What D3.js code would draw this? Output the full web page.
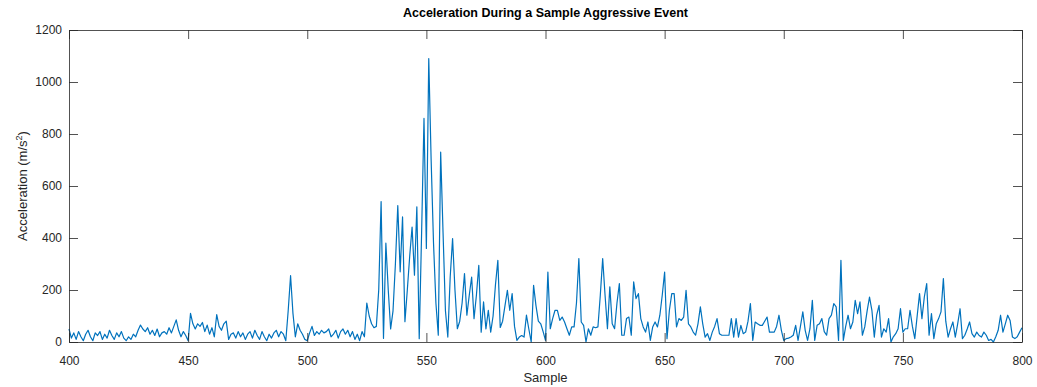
<!DOCTYPE html>
<html>
<head>
<meta charset="utf-8">
<script src="https://cdn.jsdelivr.net/npm/d3@7"></script>
<style>
  body { margin: 0; background: #fff; }
  svg { display: block; font-family: "Liberation Sans", Arial, Helvetica, sans-serif; }
</style>
</head>
<body>
<svg id="chart" width="1037" height="387"></svg>
<script>
// chart text
var title = "Acceleration During a Sample Aggressive Event";
var xLabel = "Sample";
var yLabelMain = "Acceleration (m/s";
var yLabelSup = "2";
var yLabelEnd = ")";

// ticks
var xTicks = [400, 450, 500, 550, 600, 650, 700, 750, 800];
var yTicks = [0, 200, 400, 600, 800, 1000, 1200];

// samples 400..800, one acceleration value each
var firstSample = 400;
var accel = [
  50, 15, 35, 10, 40, 20, 5, 30, 45, 20,        // 400
  5, 35, 25, 40, 10, 30, 15, 45, 25, 10,        // 410
  35, 20, 40, 15, 5, 20, 10, 30, 20, 45,        // 420
  65, 50, 40, 55, 30, 45, 25, 50, 20, 35,       // 430
  40, 30, 55, 35, 60, 85, 45, 20, 40, 25,       // 440
  5, 110, 70, 50, 70, 60, 75, 40, 65, 30,       // 450
  55, 20, 105, 60, 45, 70, 80, 10, 30, 35,      // 460
  15, 40, 20, 35, 10, 30, 40, 15, 45, 25,       // 470
  10, 40, 20, 5, 30, 15, 35, 45, 20, 40,        // 480
  30, 5, 120, 255, 110, 20, 70, 45, 30, 10,     // 490
  5, 35, 60, 25, 40, 30, 45, 35, 40, 50,        // 500
  20, 30, 45, 15, 40, 50, 30, 45, 20, 40,       // 510
  10, 30, 5, 40, 20, 150, 100, 70, 55, 60,      // 520
  200, 540, 14, 380, 200, 50, 120, 300, 525, 270, // 530
  481, 78, 200, 330, 442, 257, 520, 13, 420, 860, // 540
  360, 1090, 700, 380, 150, 26, 730, 420, 120, 19, // 550
  250, 398, 200, 51, 80, 150, 263, 103, 180, 250, // 560
  90, 180, 295, 38, 154, 50, 122, 38, 100, 220, // 570
  314, 56, 80, 140, 199, 122, 186, 60, 6, 19,   // 580
  25, 19, 103, 50, 0, 218, 140, 80, 70, 40,     // 590
  6, 269, 51, 90, 122, 122, 83, 96, 77, 51,     // 600
  26, 58, 58, 150, 321, 77, 64, 0, 51, 26,      // 610
  58, 55, 58, 180, 321, 180, 51, 212, 70, 51,   // 620
  150, 225, 26, 26, 90, 96, 26, 231, 167, 186,  // 630
  90, 58, 38, 77, 6, 58, 77, 58, 103, 180,      // 640
  269, 13, 122, 186, 186, 58, 90, 83, 96, 199,  // 650
  70, 58, 38, 26, 70, 135, 70, 19, 32, 6,       // 660
  38, 60, 90, 32, 26, 26, 26, 26, 90, 19,       // 670
  90, 19, 64, 32, 38, 80, 148, 6, 77, 70,       // 680
  64, 64, 80, 96, 38, 38, 38, 60, 103, 45,      // 690
  6, 13, 15, 19, 26, 64, 6, 60, 116, 45,        // 700
  6, 51, 160, 6, 64, 70, 90, 40, 26, 90,        // 710
  103, 148, 135, 6, 314, 6, 60, 103, 51, 77,    // 720
  160, 109, 154, 26, 58, 120, 173, 122, 19, 103, // 730
  141, 19, 51, 38, 90, 0, 20, 32, 51, 128,      // 740
  38, 51, 51, 122, 60, 13, 100, 186, 90, 173,   // 750
  225, 26, 109, 13, 70, 90, 116, 244, 80, 19,   // 760
  51, 77, 19, 70, 128, 13, 26, 50, 77, 32,      // 770
  19, 38, 25, 19, 38, 26, 6, 10, 0, 20,         // 780
  45, 103, 38, 70, 103, 83, 19, 13, 20, 38,     // 790
  55                                            // 800
];

var data = accel.map(function (v, i) { return [firstSample + i, v]; });

var svg = d3.select('#chart');
var margin = {top: 30, right: 15, bottom: 45, left: 69},
    width = +svg.attr("width") - margin.left - margin.right,
    height = +svg.attr("height") - margin.top - margin.bottom;

var axisColor = "#262626";
var tickLen = 9;

var x = d3.scaleLinear()
    .domain([400, 800])
    .range([0, width]);

var y = d3.scaleLinear()
    .domain([0, 1200])
    .range([height, 0]);

var g = svg.append("g").attr("transform", "translate(" + margin.left + "," + margin.top + ")");

//Line
var line = d3.line()
    .x(function (d) { return x(d[0]); })
    .y(function (d) { return y(d[1]); });

g.append("path")
    .datum(data)
    .attr("fill", "none")
    .attr("stroke", "#0072BD")
    .attr("stroke-width", 1.2)
    .attr("stroke-linejoin", "round")
    .attr("d", line);

//Axes, ticks pointing inward like matlab
function styleAxis(sel, hideText) {
    sel.attr("font-family", null);
    sel.select(".domain").attr("stroke", axisColor).attr("stroke-width", 0.8);
    sel.selectAll(".tick line").attr("stroke", axisColor).attr("stroke-width", 0.8);
    sel.selectAll(".tick text")
        .attr("fill", axisColor)
        .style("font-size", "12px")
        .style("display", hideText ? "none" : null);
}

g.append("g")
    .attr("transform", "translate(0," + height + ")")
    .call(d3.axisBottom(x).tickValues(xTicks).tickSizeInner(-tickLen).tickSizeOuter(0).tickPadding(14).tickFormat(d3.format("d")))
    .call(styleAxis, false);

g.append("g")
    .call(d3.axisTop(x).tickValues(xTicks).tickSizeInner(-tickLen).tickSizeOuter(0))
    .call(styleAxis, true);

g.append("g")
    .call(d3.axisLeft(y).tickValues(yTicks).tickSizeInner(-tickLen).tickSizeOuter(0).tickPadding(7).tickFormat(d3.format("d")))
    .call(styleAxis, false);

g.append("g")
    .attr("transform", "translate(" + width + ",0)")
    .call(d3.axisRight(y).tickValues(yTicks).tickSizeInner(-tickLen).tickSizeOuter(0))
    .call(styleAxis, true);

//Title
svg.append("text")
    .attr("x", margin.left + width / 2)
    .attr("y", 17)
    .attr("text-anchor", "middle")
    .attr("fill", "#000")
    .style("font-size", "12.5px")
    .style("font-weight", "bold")
    .text(title);

//X label
svg.append("text")
    .attr("x", margin.left + width / 2)
    .attr("y", 382)
    .attr("text-anchor", "middle")
    .attr("fill", axisColor)
    .style("font-size", "13px")
    .text(xLabel);

//Y label with superscript
var yl = svg.append("text")
    .attr("transform", "translate(27," + (margin.top + height / 2) + ") rotate(-90)")
    .attr("text-anchor", "middle")
    .attr("fill", axisColor)
    .style("font-size", "13px");
yl.append("tspan").text(yLabelMain);
yl.append("tspan").attr("dy", -5).style("font-size", "9px").text(yLabelSup);
yl.append("tspan").attr("dy", 5).text(yLabelEnd);
</script>
</body>
</html>
